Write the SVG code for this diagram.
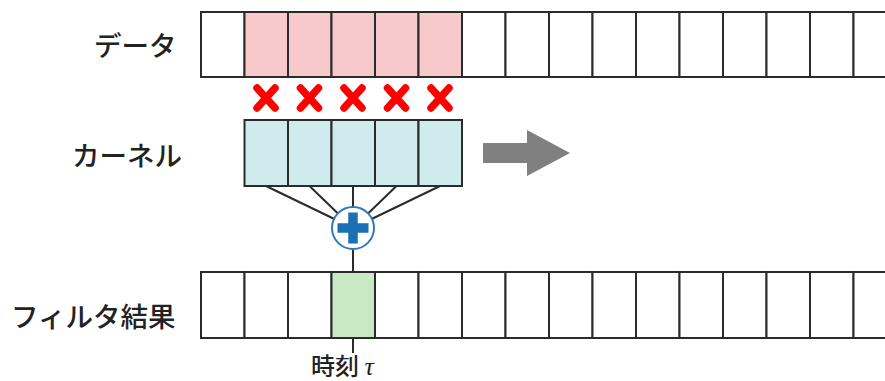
<svg xmlns="http://www.w3.org/2000/svg" width="885" height="381" viewBox="0 0 885 381">
  <style>
    .cell { stroke: #2b2b2b; stroke-width: 2; }
    .empty { fill: #ffffff; }
    .data { fill: #f7c9ca; }
    .kern { fill: #d0ebed; }
    .hit { fill: #c9e8c4; }
    .label { font-family: "Noto Sans CJK JP", "Noto Sans", sans-serif; font-size: 27.5px; font-weight: 500; fill: #222222; dominant-baseline: central; }
    .wire { stroke: #2b2b2b; stroke-width: 2; fill: none; }
    .mul { stroke: #ff0000; stroke-width: 7.5; stroke-linecap: round; fill: none; }
  </style>
  <defs>
    <path id="x" d="M -9 -10 L 9 10 M 9 -10 L -9 10"/>
  </defs>
  <rect width="885" height="381" fill="#ffffff"/>

  <!-- Connectors: kernel cells to the sum, sum to output, output to time mark -->
  <g id="connectors" class="wire">
    <line x1="266" y1="186" x2="353" y2="228"/>
    <line x1="309.5" y1="186" x2="353" y2="228"/>
    <line x1="353" y1="186" x2="353" y2="228"/>
    <line x1="396.5" y1="186" x2="353" y2="228"/>
    <line x1="440" y1="186" x2="353" y2="228"/>
    <line x1="353" y1="249" x2="353" y2="272"/>
    <line x1="353" y1="338" x2="353" y2="353"/>
  </g>

  <!-- Input data row (extends past the right edge) -->
  <g id="data-row">
    <text class="label" x="94" y="44">データ</text>
    <rect class="cell empty" x="201" y="12" width="43.5" height="65"/>
    <rect class="cell data" x="244.5" y="12" width="43.5" height="65"/>
    <rect class="cell data" x="288" y="12" width="43.5" height="65"/>
    <rect class="cell data" x="331.5" y="12" width="43.5" height="65"/>
    <rect class="cell data" x="375" y="12" width="43.5" height="65"/>
    <rect class="cell data" x="418.5" y="12" width="43.5" height="65"/>
    <rect class="cell empty" x="462" y="12" width="43.5" height="65"/>
    <rect class="cell empty" x="505.5" y="12" width="43.5" height="65"/>
    <rect class="cell empty" x="549" y="12" width="43.5" height="65"/>
    <rect class="cell empty" x="592.5" y="12" width="43.5" height="65"/>
    <rect class="cell empty" x="636" y="12" width="43.5" height="65"/>
    <rect class="cell empty" x="679.5" y="12" width="43.5" height="65"/>
    <rect class="cell empty" x="723" y="12" width="43.5" height="65"/>
    <rect class="cell empty" x="766.5" y="12" width="43.5" height="65"/>
    <rect class="cell empty" x="810" y="12" width="43.5" height="65"/>
    <rect class="cell empty" x="853.5" y="12" width="43.5" height="65"/>
  </g>

  <!-- Element-wise products -->
  <g id="multiply" class="mul">
    <use href="#x" x="266" y="98"/>
    <use href="#x" x="309.5" y="98"/>
    <use href="#x" x="353" y="98"/>
    <use href="#x" x="396.5" y="98"/>
    <use href="#x" x="440" y="98"/>
  </g>

  <!-- Kernel -->
  <g id="kernel">
    <text class="label" x="72" y="154">カーネル</text>
    <rect class="cell kern" x="244.5" y="120" width="43.5" height="66"/>
    <rect class="cell kern" x="288" y="120" width="43.5" height="66"/>
    <rect class="cell kern" x="331.5" y="120" width="43.5" height="66"/>
    <rect class="cell kern" x="375" y="120" width="43.5" height="66"/>
    <rect class="cell kern" x="418.5" y="120" width="43.5" height="66"/>
  </g>

  <!-- Slide direction -->
  <g id="slide-arrow">
    <polygon points="483,143 527,143 527,130 570,153 527,176 527,163 483,163" fill="#808080"/>
  </g>

  <!-- Summation -->
  <g id="sum">
    <circle cx="353" cy="228" r="21" fill="#ffffff" stroke="#2e79bd" stroke-width="2"/>
    <path d="M 337.5 228 L 368.5 228 M 353 212.5 L 353 243.5" stroke="#1b6fb4" stroke-width="9.5"/>
  </g>

  <!-- Filter output row -->
  <g id="result-row">
    <text class="label" x="11" y="315">フィルタ結果</text>
    <rect class="cell empty" x="201" y="272" width="43.5" height="66"/>
    <rect class="cell empty" x="244.5" y="272" width="43.5" height="66"/>
    <rect class="cell empty" x="288" y="272" width="43.5" height="66"/>
    <rect class="cell hit" x="331.5" y="272" width="43.5" height="66"/>
    <rect class="cell empty" x="375" y="272" width="43.5" height="66"/>
    <rect class="cell empty" x="418.5" y="272" width="43.5" height="66"/>
    <rect class="cell empty" x="462" y="272" width="43.5" height="66"/>
    <rect class="cell empty" x="505.5" y="272" width="43.5" height="66"/>
    <rect class="cell empty" x="549" y="272" width="43.5" height="66"/>
    <rect class="cell empty" x="592.5" y="272" width="43.5" height="66"/>
    <rect class="cell empty" x="636" y="272" width="43.5" height="66"/>
    <rect class="cell empty" x="679.5" y="272" width="43.5" height="66"/>
    <rect class="cell empty" x="723" y="272" width="43.5" height="66"/>
    <rect class="cell empty" x="766.5" y="272" width="43.5" height="66"/>
    <rect class="cell empty" x="810" y="272" width="43.5" height="66"/>
    <rect class="cell empty" x="853.5" y="272" width="43.5" height="66"/>
  </g>

  <!-- Time index -->
  <g id="time-label">
    <text x="311" y="375" font-family="Noto Sans CJK JP, Noto Sans, sans-serif" font-size="24" font-weight="500" fill="#222222">時刻 <tspan font-family="Liberation Serif, serif" font-style="italic" font-size="26">τ</tspan></text>
  </g>
</svg>
